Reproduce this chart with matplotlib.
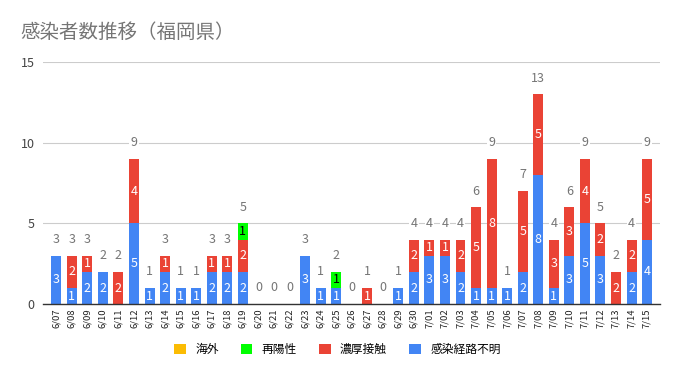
import matplotlib
matplotlib.use('Agg')
import matplotlib.pyplot as plt
import numpy as np

plt.rcParams['font.family'] = ['Noto Sans CJK JP', 'DejaVu Sans']

# dates 6/07 .. 7/15
dates = ['6/07', '6/08', '6/09', '6/10', '6/11', '6/12', '6/13', '6/14', '6/15', '6/16',
         '6/17', '6/18', '6/19', '6/20', '6/21', '6/22', '6/23', '6/24', '6/25', '6/26',
         '6/27', '6/28', '6/29', '6/30', '7/01', '7/02', '7/03', '7/04', '7/05', '7/06',
         '7/07', '7/08', '7/09', '7/10', '7/11', '7/12', '7/13', '7/14', '7/15']
unknown = [3, 1, 2, 2, 0, 5, 1, 2, 1, 1, 2, 2, 2, 0, 0, 0, 3, 1, 1, 0,
           0, 0, 1, 2, 3, 3, 2, 1, 1, 1, 2, 8, 1, 3, 5, 3, 0, 2, 4]
contact = [0, 2, 1, 0, 2, 4, 0, 1, 0, 0, 1, 1, 2, 0, 0, 0, 0, 0, 0, 0,
           1, 0, 0, 2, 1, 1, 2, 5, 8, 0, 5, 5, 3, 3, 4, 2, 2, 2, 5]
repos = [0, 0, 0, 0, 0, 0, 0, 0, 0, 0, 0, 0, 1, 0, 0, 0, 0, 0, 1, 0,
         0, 0, 0, 0, 0, 0, 0, 0, 0, 0, 0, 0, 0, 0, 0, 0, 0, 0, 0]
overseas = [0] * len(dates)

series = [('感染経路不明', unknown, '#4285f4', 'white'),
          ('濃厚接触', contact, '#ea4335', 'white'),
          ('再陽性', repos, '#00ff00', 'black'),
          ('海外', overseas, '#fbbc04', 'white')]

fig = plt.figure(figsize=(6.75, 3.76), dpi=100)
ax = fig.add_axes([0.064, 0.191, 0.914, 0.644])

x = np.arange(len(dates))
bottom = np.zeros(len(dates))
handles = {}
for name, vals, col, tcol in series:
    vals = np.array(vals)
    b = ax.bar(x, vals, 0.64, bottom=bottom, color=col, zorder=2)
    handles[name] = b
    for i, v in enumerate(vals):
        if v > 0:
            ax.text(x[i], bottom[i] + v / 2, str(v), ha='center', va='center',
                    color=tcol, fontsize=9, zorder=3)
    bottom = bottom + vals

# totals above bars, white box breaks the gridline like the original
for i, t in enumerate(bottom):
    ax.annotate(str(int(t)), (x[i], t), xytext=(0, 7), textcoords='offset points',
                ha='center', va='bottom', color='#757575', fontsize=9,
                bbox=dict(boxstyle='square,pad=0.1', fc='white', ec='none'),
                annotation_clip=False, zorder=3)

ax.set_xlim(-0.84, len(dates) - 0.16)
ax.set_ylim(0, 15)
ax.set_yticks([0, 5, 10, 15])
ax.set_xticks(x)
ax.set_xticklabels(dates, rotation=90, fontsize=6.8, color='#222222')
ax.tick_params(axis='x', length=0, pad=3)
ax.tick_params(axis='y', length=0, labelsize=9, labelcolor='#444444', pad=6)
ax.grid(axis='y', color='#cccccc', linewidth=0.8, zorder=0)
for s in ['top', 'right', 'left']:
    ax.spines[s].set_visible(False)
ax.spines['bottom'].set_color('#333333')
ax.spines['bottom'].set_linewidth(1)
ax.spines['bottom'].set_zorder(4)

fig.text(0.03, 0.915, '感染者数推移（福岡県）', fontsize=14, color='#757575', va='center')

order = ['海外', '再陽性', '濃厚接触', '感染経路不明']
leg = fig.legend([handles[n] for n in order], order, loc='center', bbox_to_anchor=(0.5, 0.07),
                 ncol=4, frameon=False, fontsize=8.5, handlelength=0.95, handleheight=1.0,
                 handletextpad=0.8, columnspacing=1.9)

plt.savefig('out.png', dpi=100)
